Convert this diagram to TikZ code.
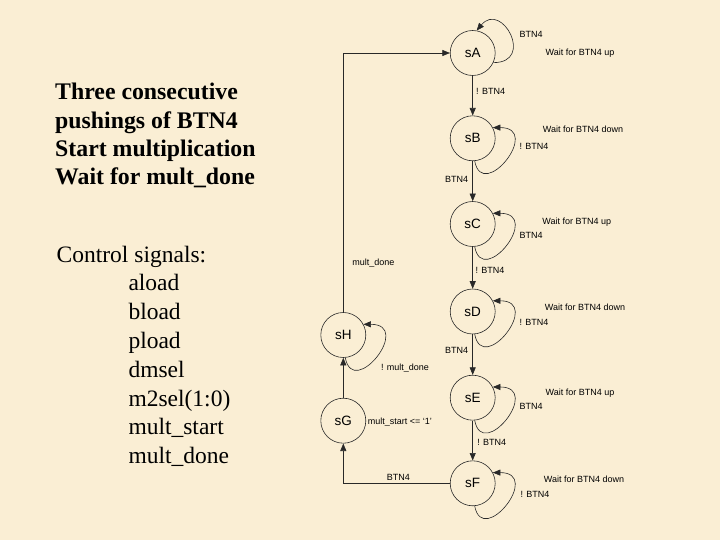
\documentclass[tikz,border=0pt]{standalone}
\usepackage{fontspec}
\setmainfont{Liberation Serif}
\newfontfamily\arialfont{Liberation Sans}
\usetikzlibrary{arrows.meta}
\definecolor{paper}{RGB}{250,238,212}
\definecolor{ink}{RGB}{40,40,40}

\tikzset{
  state/.style={circle,draw=ink,line width=0.6pt,minimum size=45pt,inner sep=0pt,
    font=\arialfont\fontsize{13.5}{14}\selectfont},
  lbl/.style={inner sep=0pt,font=\arialfont\fontsize{9}{10}\selectfont},
  arr/.style={draw=ink,line width=0.6pt,-{Triangle[length=7.5pt,width=6pt]}},
  headtxt/.style={anchor=base west,inner sep=0pt,font=\bfseries\fontsize{23.8}{24}\selectfont},
  sigtxt/.style={anchor=base west,inner sep=0pt,font=\fontsize{23.5}{24}\selectfont}
}

\begin{document}
\begin{tikzpicture}[x=1pt,y=-1pt]
	\fill[paper] (0,0) rectangle (720,540);
	\useasboundingbox (0,0) rectangle (720,540);

	% left text
	\node[headtxt] (h1) at (55,100) {Three consecutive};
	\node[headtxt] (h2) at (55,128.3) {pushings of BTN4};
	\node[headtxt] (h3) at (55,156.6) {Start multiplication};
	\node[headtxt] (h4) at (55,185) {Wait for mult\_done};

	\node[sigtxt] (c0) at (56.5,262) {Control signals:};
	\node[sigtxt] (c1) at (128.3,290.8) {aload};
	\node[sigtxt] (c2) at (128.3,319.6) {bload};
	\node[sigtxt] (c3) at (128.3,348.4) {pload};
	\node[sigtxt] (c4) at (128.3,377.2) {dmsel};
	\node[sigtxt] (c5) at (128.3,406) {m2sel(1:0)};
	\node[sigtxt] (c6) at (128.3,434.8) {mult\_start};
	\node[sigtxt] (c7) at (128.3,463.6) {mult\_done};

	% states
	\node[state] (sA) at (472.7,53) {sA};
	\node[state] (sB) at (472.7,138.3) {sB};
	\node[state] (sC) at (472.7,224) {sC};
	\node[state] (sD) at (472.7,311.5) {sD};
	\node[state] (sE) at (472.7,397.7) {sE};
	\node[state] (sF) at (472.7,483.3) {sF};
	\node[state] (sG) at (343.3,420.7) {sG};
	\node[state] (sH) at (343.3,335) {sH};

	% transitions
	\draw[arr] (sA) -- (sB);
	\draw[arr] (sB) -- (sC);
	\draw[arr] (sC) -- (sD);
	\draw[arr] (sD) -- (sE);
	\draw[arr] (sE) -- (sF);
	\draw[arr] (sF.west) -| (sG.south);
	\draw[arr] (sG) -- (sH);
	\draw[arr] (sH.north) |- (sA.west);

	% self loops
	\draw[arr] (sA.-25) .. controls +(42,0) and +(25,-30) .. (sA.80);
	\foreach \s in {sB,sC,sD,sE,sF,sH}
		\draw[arr] (\s.-85) .. controls +(8,42) and +(50,0) .. (\s.28);

	% labels
	\node[lbl] (lA) at (531,34) {BTN4};
	\node[lbl] (wA) at (580,52.7) {Wait for BTN4 up};
	\node[lbl,anchor=west] (tAB) at (476,91.7) {! BTN4};
	\node[lbl] (wB) at (583,129) {Wait for BTN4 down};
	\node[lbl] (lB) at (534,146.7) {! BTN4};
	\node[lbl] (tBC) at (456.7,179.3) {BTN4};
	\node[lbl] (wC) at (576.7,221.7) {Wait for BTN4 up};
	\node[lbl] (lC) at (531,235.7) {BTN4};
	\node[lbl] (tHA) at (373.3,262.7) {mult\_done};
	\node[lbl] (tCD) at (490,270.7) {! BTN4};
	\node[lbl] (wD) at (585,307.3) {Wait for BTN4 down};
	\node[lbl] (lD) at (534,322.3) {! BTN4};
	\node[lbl] (tDE) at (456.7,350.7) {BTN4};
	\node[lbl] (lH) at (405,367.7) {! mult\_done};
	\node[lbl] (wE) at (580,392.7) {Wait for BTN4 up};
	\node[lbl] (lE) at (531,406) {BTN4};
	\node[lbl,anchor=west] (oG) at (367.7,421.7) {mult\_start <= ‘1’};
	\node[lbl] (tEF) at (491.7,442.3) {! BTN4};
	\node[lbl] (tFG) at (398.3,477.7) {BTN4};
	\node[lbl] (wF) at (584,479.3) {Wait for BTN4 down};
	\node[lbl] (lF) at (535,494) {! BTN4};
\end{tikzpicture}
\end{document}
